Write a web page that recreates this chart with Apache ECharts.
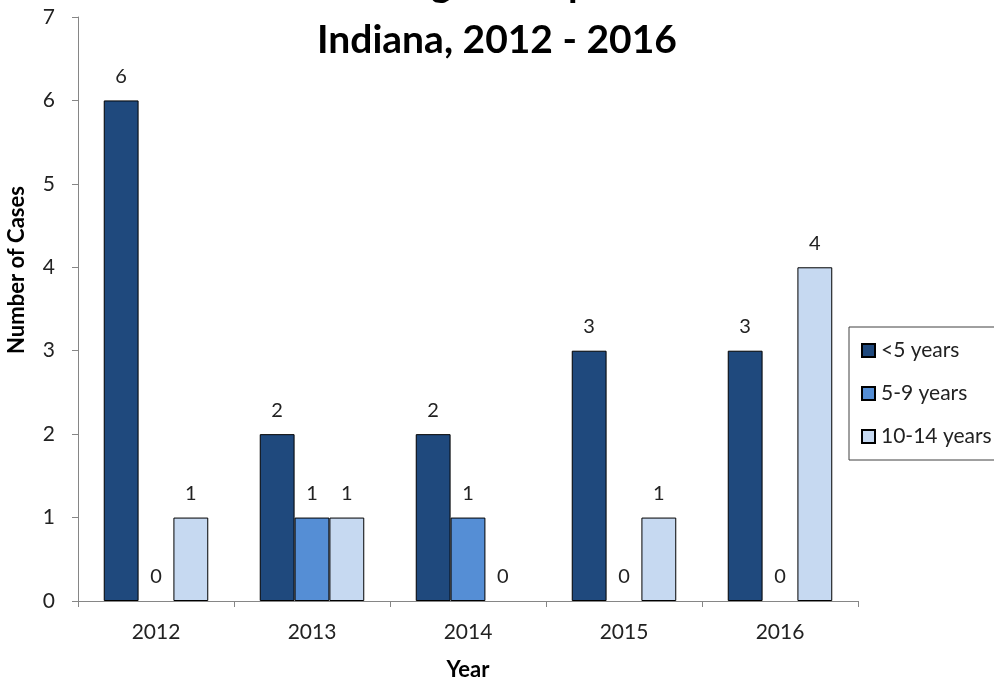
<!DOCTYPE html>
<html>
<head>
<meta charset="utf-8">
<script src="https://cdn.jsdelivr.net/npm/echarts@6/dist/echarts.min.js"></script>
<style>
html,body{margin:0;padding:0;background:#fff;}
#c{width:994px;height:681px;}
</style>
</head>
<body>
<div id="c"></div>
<script>
const years = ['2012', '2013', '2014', '2015', '2016'];
const under5 = [6, 2, 2, 3, 3];
const age5to9 = [0, 1, 1, 0, 0];
const age10to14 = [1, 1, 0, 1, 4];
const seriesNames = ['<5 years', '5-9 years', '10-14 years'];
const seriesColors = ['#1F497D', '#558ED5', '#C6D9F1'];
const yTicks = [0, 1, 2, 3, 4, 5, 6, 7];

const FONT = 'Lato, "Open Sans", sans-serif';
const chart = echarts.init(document.getElementById('c'), null, {renderer: 'canvas'});

function mkSeries(name, data, color) {
  return {
    name: name,
    type: 'bar',
    data: data.map(v => v === 0 ? {value: v, itemStyle: {borderWidth: 0}} : v),
    barGap: '0%',
    barCategoryGap: '33%',
    itemStyle: {color: color, borderColor: '#000', borderWidth: 1},
    label: {
      show: true, position: 'top', distance: 14,
      fontFamily: FONT, fontSize: 20, color: '#222'
    }
  };
}

chart.setOption({
  animation: false,
  backgroundColor: '#fff',
  title: {
    text: 'Age Group\nIndiana, 2012 - 2016',
    left: 'center',
    top: -49,
    textStyle: {fontFamily: FONT, fontWeight: 'bold', fontSize: 39, lineHeight: 56, color: '#000'}
  },
  grid: {left: 78, right: 136, top: 17, bottom: 80, containLabel: false, outerBoundsMode: 'none'},
  legend: {
    orient: 'vertical',
    left: 849, top: 327,
    padding: [13, 20, 13, 12],
    itemGap: 22,
    itemWidth: 13, itemHeight: 13,
    icon: 'rect',
    borderColor: '#404040', borderWidth: 1,
    textStyle: {fontFamily: FONT, fontSize: 21, color: '#222', padding: [0, 0, 0, 1]},
    data: seriesNames
  },
  xAxis: {
    type: 'category',
    data: years,
    name: 'Year',
    nameLocation: 'middle',
    nameGap: 58,
    nameTextStyle: {fontFamily: FONT, fontWeight: 'bold', fontSize: 22, color: '#000'},
    axisLine: {lineStyle: {color: '#868686', width: 1}},
    axisTick: {show: true, length: 6, alignWithLabel: false, lineStyle: {color: '#868686'}},
    axisLabel: {fontFamily: FONT, fontSize: 21, color: '#222', margin: 21}
  },
  yAxis: {
    type: 'value',
    min: yTicks[0], max: yTicks[yTicks.length - 1], interval: 1,
    axisLine: {show: true, lineStyle: {color: '#868686', width: 1}},
    axisTick: {show: true, length: 6, lineStyle: {color: '#868686'}},
    splitLine: {show: false},
    axisLabel: {fontFamily: FONT, fontSize: 21, color: '#222', margin: 23}
  },
  graphic: [{
    type: 'text',
    x: 17, y: 270,
    rotation: Math.PI / 2,
    style: {
      text: 'Number of Cases',
      font: 'bold 22px ' + FONT,
      fill: '#000',
      textAlign: 'center',
      textVerticalAlign: 'middle'
    }
  }],
  series: [
    mkSeries(seriesNames[0], under5, seriesColors[0]),
    mkSeries(seriesNames[1], age5to9, seriesColors[1]),
    mkSeries(seriesNames[2], age10to14, seriesColors[2])
  ]
});
</script>
</body>
</html>
